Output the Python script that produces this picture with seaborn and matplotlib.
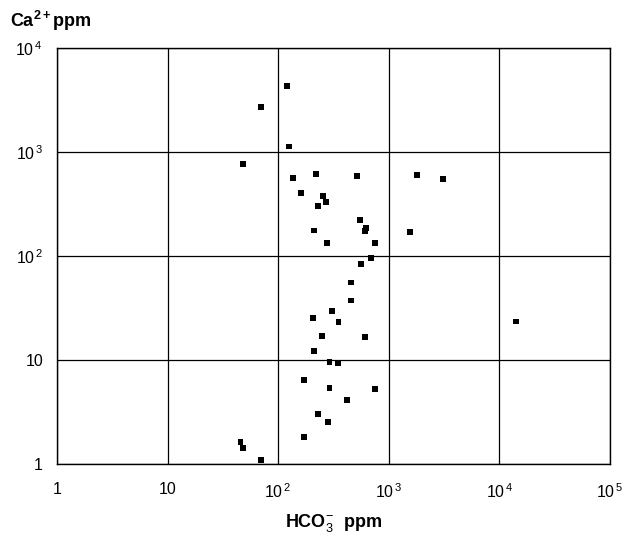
import numpy as np
import pandas as pd
import matplotlib
matplotlib.use("Agg")
import matplotlib.pyplot as plt
import seaborn as sns

# HCO3- (ppm) and Ca2+ (ppm)
hco3 = [120, 70.5, 125, 48.4, 136, 218, 519, 1808, 3077, 160,
        255, 269, 229, 548, 627, 605, 212, 275, 757, 1563,
        690, 560, 458, 455, 308, 208, 351, 249, 610, 212,
        291, 349, 171, 291, 752, 421, 228, 284, 170, 45.7,
        48.3, 70.6, 14250]
ca = [4285, 2700, 1130, 767, 563, 610, 593, 606, 555, 401,
      381, 329, 301, 221, 185, 173, 176, 134, 134, 171,
      96, 84, 55.6, 37.3, 29.3, 25.4, 23.2, 17.0, 16.5, 12.2,
      9.5, 9.3, 6.44, 5.39, 5.24, 4.10, 3.03, 2.53, 1.81, 1.63,
      1.41, 1.09, 23.4]

x_ticks = [1, 10, 100, 1000, 10000, 100000]
x_tick_labels = ["1", "10", "$10^{\\,2}$", "$10^{\\,3}$", "$10^{\\,4}$", "$10^{\\,5}$"]
y_ticks = [1, 10, 100, 1000, 10000]
y_tick_labels = ["1", "10", "$10^{\\,2}$", "$10^{\\,3}$", "$10^{\\,4}$"]

df = pd.DataFrame({"HCO3": hco3, "Ca": ca})

sns.set_style("white")
plt.rcParams["font.family"] = ["Liberation Sans", "DejaVu Sans"]
plt.rcParams["mathtext.fontset"] = "custom"
plt.rcParams["mathtext.rm"] = "Liberation Sans"
plt.rcParams["mathtext.bf"] = "Liberation Sans:bold"
plt.rcParams["text.color"] = "black"
plt.rcParams["axes.labelcolor"] = "black"
plt.rcParams["xtick.color"] = "black"
plt.rcParams["ytick.color"] = "black"

fig = plt.figure(figsize=(6.4, 5.47), dpi=100)
ax = fig.add_axes([0.089, 0.152, 0.864, 0.760])

sns.scatterplot(data=df, x="HCO3", y="Ca", marker="s", color="black",
                edgecolor="none", s=18, ax=ax, zorder=3)

ax.set_xscale("log")
ax.set_yscale("log")
ax.set_xlim(1, 1e5)
ax.set_ylim(1, 1e4)
ax.set_xticks(x_ticks)
ax.set_xticklabels(x_tick_labels, fontsize=11.5)
ax.set_yticks(y_ticks)
ax.set_yticklabels(y_tick_labels, fontsize=11.5)
ax.minorticks_off()
ax.tick_params(axis="x", length=0, pad=13)
ax.tick_params(axis="y", length=0, pad=10)

ax.grid(True, color="black", linewidth=0.9)
for sp in ax.spines.values():
    sp.set_color("black")
    sp.set_linewidth(1.0)

ax.set_xlabel("HCO$_3^{-}$  ppm", fontsize=13, fontweight="bold", labelpad=8)
ax.set_ylabel("")
fig.text(0.015, 0.962, "Ca$^{\\mathbf{2+}}$ppm", fontsize=13, fontweight="bold",
         ha="left", va="center")

fig.savefig("out.png", dpi=100)
